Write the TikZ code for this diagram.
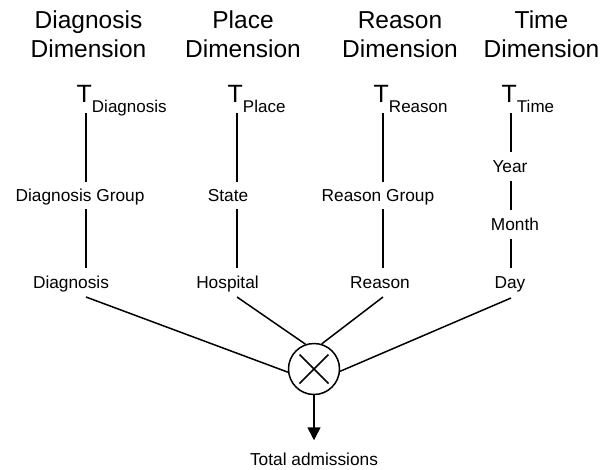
\documentclass[tikz,border=0pt]{standalone}
\usepackage{fontspec}
\setmainfont{Liberation Sans}
\usetikzlibrary{arrows.meta}
\begin{document}
\begin{tikzpicture}[x=1pt,y=-1pt,
  hdr/.style={font=\fontsize{24.5}{29}\selectfont, inner sep=0pt, anchor=base},
  lvl/.style={font=\fontsize{17.3}{20}\selectfont, inner sep=0pt, anchor=base},
  tsym/.style={inner sep=0pt, anchor=base west},
  conn/.style={line width=1.5pt},
  arr/.style={line width=1.5pt, -{Triangle[length=13pt,width=13pt]}}]
\useasboundingbox (0,0) rectangle (615,469);
\newcommand{\tlab}[1]{{\fontsize{25}{30}\selectfont T}\raisebox{-10pt}{\fontsize{17}{20}\selectfont #1}}
% headers
\node[hdr] (h1a) at (88.5,28) {Diagnosis};
\node[hdr] (h1b) at (88.5,57) {Dimension};
\node[hdr] (h2a) at (243,28) {Place};
\node[hdr] (h2b) at (243,57) {Dimension};
\node[hdr] (h3a) at (400,28) {Reason};
\node[hdr] (h3b) at (400,57) {Dimension};
\node[hdr] (h4a) at (541.5,28) {Time};
\node[hdr] (h4b) at (541.5,57) {Dimension};
% top symbols
\node[tsym] (tD) at (76.5,102) {\tlab{Diagnosis}};
\node[tsym] (tP) at (227.5,102) {\tlab{Place}};
\node[tsym] (tR) at (373.5,102) {\tlab{Reason}};
\node[tsym] (tT) at (501.5,102) {\tlab{Time}};
% levels
\node[lvl] (dg) at (80,201) {Diagnosis Group};
\node[lvl] (dd) at (71,288) {Diagnosis};
\node[lvl] (ps) at (228,201) {State};
\node[lvl] (ph) at (227.5,288) {Hospital};
\node[lvl] (rg) at (378,201) {Reason Group};
\node[lvl] (rr) at (380,288) {Reason};
\node[lvl] (ty) at (510,172) {Year};
\node[lvl] (tm) at (515,230) {Month};
\node[lvl] (td) at (510,288) {Day};
\node[lvl] (ta) at (314,465) {Total admissions};
% line end points
\coordinate (d1) at (86,113);  \coordinate (d2) at (86,182);
\coordinate (d3) at (86,209);  \coordinate (d4) at (86,268);
\coordinate (d5) at (86,297);
\coordinate (p1) at (237,113); \coordinate (p2) at (237,182);
\coordinate (p3) at (237,209); \coordinate (p4) at (237,268);
\coordinate (p5) at (237,297);
\coordinate (r1) at (383,113); \coordinate (r2) at (383,182);
\coordinate (r3) at (383,209); \coordinate (r4) at (383,268);
\coordinate (r5) at (383,297);
\coordinate (t1) at (511,113); \coordinate (t2) at (511,152);
\coordinate (t3) at (511,181); \coordinate (t4) at (511,210);
\coordinate (t5) at (511,239); \coordinate (t6) at (511,268);
\coordinate (t7) at (511,298);
% join operator
\node[draw, circle, line width=1.5pt, minimum size=51pt, inner sep=0pt] (m) at (314,369) {};
\draw[conn] ([shift={(-14.5,-14.5)}]m.center) -- ([shift={(14.5,14.5)}]m.center);
\draw[conn] ([shift={(14.5,-14.5)}]m.center) -- ([shift={(-14.5,14.5)}]m.center);
% connectors
\draw[conn] (d1) -- (d2); \draw[conn] (d3) -- (d4);
\draw[conn] (p1) -- (p2); \draw[conn] (p3) -- (p4);
\draw[conn] (r1) -- (r2); \draw[conn] (r3) -- (r4);
\draw[conn] (t1) -- (t2); \draw[conn] (t3) -- (t4); \draw[conn] (t5) -- (t6);
\draw[conn] (d5) -- (m.187);
\draw[conn] (p5) -- (m.109);
\draw[conn] (r5) -- (m.73);
\draw[conn] (t7) -- (m.-5);
\draw[arr, shorten >=12pt] (m) -- (ta);
\end{tikzpicture}
\end{document}
